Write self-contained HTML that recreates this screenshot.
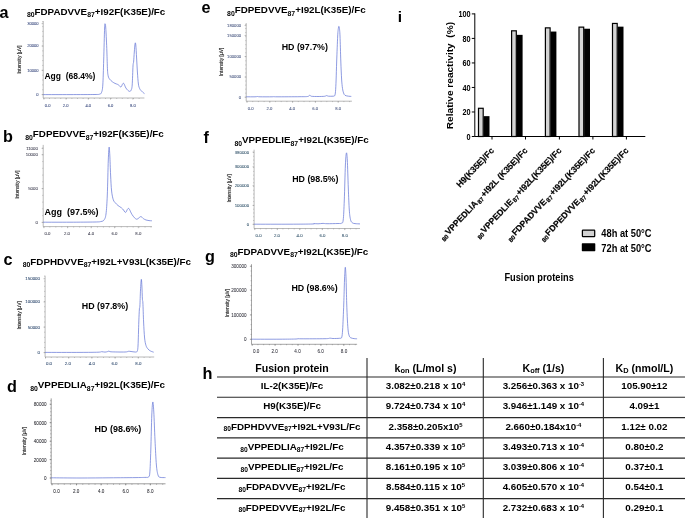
<!DOCTYPE html>
<html lang="en"><head><meta charset="utf-8"><title>Figure</title>
<style>html,body{margin:0;padding:0;background:#fff}svg{display:block}text{font-family:'Liberation Sans', sans-serif}</style>
</head><body>
<svg width="685" height="518" viewBox="0 0 685 518">
<rect width="685" height="518" fill="#fff"/>
<text x="-0.50" y="18.30" font-size="16.20" font-weight="bold" text-anchor="start" fill="#000" ><tspan dy="0.00" font-size="16.20">a</tspan></text>
<text x="26.90" y="14.50" font-size="9.80" font-weight="bold" text-anchor="start" fill="#000" ><tspan dy="2.70" font-size="6.86">80</tspan><tspan dy="-2.70" font-size="9.80">FDPADVVE</tspan><tspan dy="2.70" font-size="6.86">87</tspan><tspan dy="-2.70" font-size="9.80">+I92F(K35E)/Fc</tspan></text>
<path d="M43.20,21.00V98.00H144.40" fill="none" stroke="#8a8a8a" stroke-width="0.6"/>
<text x="38.60" y="25.04" font-size="4.1" text-anchor="end" fill="#33447a" stroke="#33447a" stroke-width="0.05">30000</text>
<text x="38.60" y="47.44" font-size="4.1" text-anchor="end" fill="#33447a" stroke="#33447a" stroke-width="0.05">20000</text>
<text x="38.60" y="71.73" font-size="4.1" text-anchor="end" fill="#33447a" stroke="#33447a" stroke-width="0.05">10000</text>
<text x="38.60" y="96.03" font-size="4.1" text-anchor="end" fill="#33447a" stroke="#33447a" stroke-width="0.05">0</text>
<text x="47.70" y="106.83" font-size="4.1" text-anchor="middle" fill="#33447a" stroke="#33447a" stroke-width="0.05">0.0</text>
<text x="65.60" y="106.83" font-size="4.1" text-anchor="middle" fill="#33447a" stroke="#33447a" stroke-width="0.05">2.0</text>
<text x="88.30" y="106.83" font-size="4.1" text-anchor="middle" fill="#33447a" stroke="#33447a" stroke-width="0.05">4.0</text>
<text x="110.50" y="106.83" font-size="4.1" text-anchor="middle" fill="#33447a" stroke="#33447a" stroke-width="0.05">6.0</text>
<text x="132.90" y="106.83" font-size="4.1" text-anchor="middle" fill="#33447a" stroke="#33447a" stroke-width="0.05">8.0</text>
<path d="M41.60,23.60H43.20M41.60,46.00H43.20M41.60,70.30H43.20M41.60,94.60H43.20M42.30,94.60H43.20M42.30,89.74H43.20M42.30,84.88H43.20M42.30,80.02H43.20M42.30,75.16H43.20M42.30,70.30H43.20M42.30,65.44H43.20M42.30,60.58H43.20M42.30,55.72H43.20M42.30,50.86H43.20M42.30,46.00H43.20M42.30,41.14H43.20M42.30,36.28H43.20M42.30,31.42H43.20M42.30,26.56H43.20M42.30,21.70H43.20M43.90,98.00v1.6M66.10,98.00v1.6M88.30,98.00v1.6M110.50,98.00v1.6M132.90,98.00v1.6M43.90,98.00v0.9M49.50,98.00v0.9M55.10,98.00v0.9M60.70,98.00v0.9M66.30,98.00v0.9M71.90,98.00v0.9M77.50,98.00v0.9M83.10,98.00v0.9M88.70,98.00v0.9M94.30,98.00v0.9M99.90,98.00v0.9M105.50,98.00v0.9M111.10,98.00v0.9M116.70,98.00v0.9M122.30,98.00v0.9M127.90,98.00v0.9M133.50,98.00v0.9M139.10,98.00v0.9" fill="none" stroke="#8a8a8a" stroke-width="0.5"/>
<text transform="translate(21.20,59.60) rotate(-90)" font-size="4.9" text-anchor="middle" fill="#1c1c1c" stroke="#1c1c1c" stroke-width="0.1">Intensity [µV]</text>
<path d="M43.20,94.60C47.67,94.60 61.37,94.62 70.00,94.60C78.63,94.58 90.08,94.57 95.00,94.50C99.92,94.43 98.42,94.53 99.50,94.20C100.58,93.87 100.95,94.03 101.50,92.50C102.05,90.97 102.43,90.42 102.80,85.00C103.17,79.58 103.40,69.50 103.70,60.00C104.00,50.50 104.37,34.00 104.60,28.00C104.83,22.00 104.92,24.17 105.10,24.00C105.28,23.83 105.48,24.33 105.70,27.00C105.92,29.67 106.20,35.83 106.40,40.00C106.60,44.17 106.72,47.00 106.90,52.00C107.08,57.00 107.28,66.00 107.50,70.00C107.72,74.00 107.87,74.50 108.20,76.00C108.53,77.50 108.80,78.03 109.50,79.00C110.20,79.97 111.48,81.07 112.40,81.80C113.32,82.53 114.13,82.97 115.00,83.40C115.87,83.83 116.88,84.03 117.60,84.40C118.32,84.77 118.85,85.20 119.30,85.60C119.75,86.00 120.03,86.57 120.30,86.80C120.57,87.03 120.68,87.10 120.90,87.00C121.12,86.90 121.35,86.65 121.60,86.20C121.85,85.75 122.17,84.77 122.40,84.30C122.63,83.83 122.82,83.57 123.00,83.40C123.18,83.23 123.32,83.22 123.50,83.30C123.68,83.38 123.87,83.48 124.10,83.90C124.33,84.32 124.60,85.12 124.90,85.80C125.20,86.48 125.42,87.25 125.90,88.00C126.38,88.75 127.23,89.75 127.80,90.30C128.37,90.85 128.90,91.15 129.30,91.30C129.70,91.45 129.88,91.42 130.20,91.20C130.52,90.98 130.87,91.03 131.20,90.00C131.53,88.97 131.90,89.00 132.20,85.00C132.50,81.00 132.77,69.83 133.00,66.00C133.23,62.17 133.38,64.33 133.60,62.00C133.82,59.67 134.05,55.08 134.30,52.00C134.55,48.92 134.85,44.67 135.10,43.50C135.35,42.33 135.55,42.58 135.80,45.00C136.05,47.42 136.33,53.50 136.60,58.00C136.87,62.50 137.10,67.67 137.40,72.00C137.70,76.33 138.03,81.25 138.40,84.00C138.77,86.75 139.17,87.42 139.60,88.50C140.03,89.58 140.47,89.87 141.00,90.50C141.53,91.13 142.22,91.78 142.80,92.30C143.38,92.82 144.22,93.38 144.50,93.60" fill="none" stroke="#5d70d4" stroke-width="0.7" stroke-linejoin="round"/>
<text x="44.40" y="79.00" font-size="8.50" font-weight="bold" text-anchor="start" fill="#000" xml:space="preserve"><tspan dy="0.00" font-size="8.50">Agg  (68.4%)</tspan></text>
<text x="3.00" y="141.80" font-size="16.20" font-weight="bold" text-anchor="start" fill="#000" ><tspan dy="0.00" font-size="16.20">b</tspan></text>
<text x="25.20" y="137.10" font-size="9.80" font-weight="bold" text-anchor="start" fill="#000" ><tspan dy="2.70" font-size="6.86">80</tspan><tspan dy="-2.70" font-size="9.80">FDPEDVVE</tspan><tspan dy="2.70" font-size="6.86">87</tspan><tspan dy="-2.70" font-size="9.80">+I92F(K35E)/Fc</tspan></text>
<path d="M43.20,144.90V226.60H151.90" fill="none" stroke="#8a8a8a" stroke-width="0.6"/>
<text x="37.80" y="149.91" font-size="4.3" text-anchor="end" fill="#38384a" stroke="#38384a" stroke-width="0.05">11000</text>
<text x="37.80" y="156.20" font-size="4.3" text-anchor="end" fill="#38384a" stroke="#38384a" stroke-width="0.05">10000</text>
<text x="37.80" y="190.10" font-size="4.3" text-anchor="end" fill="#38384a" stroke="#38384a" stroke-width="0.05">5000</text>
<text x="37.80" y="223.91" font-size="4.3" text-anchor="end" fill="#38384a" stroke="#38384a" stroke-width="0.05">0</text>
<text x="47.40" y="234.80" font-size="4.3" text-anchor="middle" fill="#38384a" stroke="#38384a" stroke-width="0.05">0.0</text>
<text x="67.00" y="234.80" font-size="4.3" text-anchor="middle" fill="#38384a" stroke="#38384a" stroke-width="0.05">2.0</text>
<text x="91.10" y="234.80" font-size="4.3" text-anchor="middle" fill="#38384a" stroke="#38384a" stroke-width="0.05">4.0</text>
<text x="114.50" y="234.80" font-size="4.3" text-anchor="middle" fill="#38384a" stroke="#38384a" stroke-width="0.05">6.0</text>
<text x="138.30" y="234.80" font-size="4.3" text-anchor="middle" fill="#38384a" stroke="#38384a" stroke-width="0.05">8.0</text>
<path d="M41.60,148.40H43.20M41.60,154.70H43.20M41.60,188.60H43.20M41.60,222.40H43.20M42.30,222.40H43.20M42.30,215.64H43.20M42.30,208.88H43.20M42.30,202.12H43.20M42.30,195.36H43.20M42.30,188.60H43.20M42.30,181.84H43.20M42.30,175.08H43.20M42.30,168.32H43.20M42.30,161.56H43.20M42.30,154.80H43.20M42.30,148.04H43.20M43.90,226.60v1.6M67.60,226.60v1.6M91.10,226.60v1.6M114.50,226.60v1.6M138.30,226.60v1.6M43.90,226.60v0.9M49.85,226.60v0.9M55.80,226.60v0.9M61.75,226.60v0.9M67.70,226.60v0.9M73.65,226.60v0.9M79.60,226.60v0.9M85.55,226.60v0.9M91.50,226.60v0.9M97.45,226.60v0.9M103.40,226.60v0.9M109.35,226.60v0.9M115.30,226.60v0.9M121.25,226.60v0.9M127.20,226.60v0.9M133.15,226.60v0.9M139.10,226.60v0.9M145.05,226.60v0.9M151.00,226.60v0.9" fill="none" stroke="#8a8a8a" stroke-width="0.5"/>
<text transform="translate(19.10,184.60) rotate(-90)" font-size="4.9" text-anchor="middle" fill="#1c1c1c" stroke="#1c1c1c" stroke-width="0.1">Intensity [µV]</text>
<path d="M43.20,222.20C47.67,222.20 61.37,222.23 70.00,222.20C78.63,222.17 89.83,222.12 95.00,222.00C100.17,221.88 99.50,221.83 101.00,221.50C102.50,221.17 103.17,221.25 104.00,220.00C104.83,218.75 105.45,218.17 106.00,214.00C106.55,209.83 106.92,204.00 107.30,195.00C107.68,186.00 108.00,167.97 108.30,160.00C108.60,152.03 108.85,148.03 109.10,147.20C109.35,146.37 109.55,150.37 109.80,155.00C110.05,159.63 110.30,169.00 110.60,175.00C110.90,181.00 111.15,186.87 111.60,191.00C112.05,195.13 112.65,197.80 113.30,199.80C113.95,201.80 114.72,202.05 115.50,203.00C116.28,203.95 117.00,204.68 118.00,205.50C119.00,206.32 120.58,207.15 121.50,207.90C122.42,208.65 122.95,209.32 123.50,210.00C124.05,210.68 124.47,211.60 124.80,212.00C125.13,212.40 125.27,212.43 125.50,212.40C125.73,212.37 125.92,212.25 126.20,211.80C126.48,211.35 126.88,210.25 127.20,209.70C127.52,209.15 127.83,208.70 128.10,208.50C128.37,208.30 128.55,208.32 128.80,208.50C129.05,208.68 129.30,209.05 129.60,209.60C129.90,210.15 130.20,210.98 130.60,211.80C131.00,212.62 131.35,213.50 132.00,214.50C132.65,215.50 133.78,217.03 134.50,217.80C135.22,218.57 135.85,218.88 136.30,219.10C136.75,219.32 136.78,219.28 137.20,219.10C137.62,218.92 138.30,218.38 138.80,218.00C139.30,217.62 139.80,217.02 140.20,216.80C140.60,216.58 140.87,216.58 141.20,216.70C141.53,216.82 141.82,217.17 142.20,217.50C142.58,217.83 142.87,218.28 143.50,218.70C144.13,219.12 145.08,219.68 146.00,220.00C146.92,220.32 148.02,220.47 149.00,220.60C149.98,220.73 151.42,220.77 151.90,220.80" fill="none" stroke="#5d70d4" stroke-width="0.7" stroke-linejoin="round"/>
<text x="44.40" y="215.00" font-size="9.00" font-weight="bold" text-anchor="start" fill="#000" xml:space="preserve"><tspan dy="0.00" font-size="9.00">Agg  (97.5%)</tspan></text>
<text x="3.50" y="265.20" font-size="16.20" font-weight="bold" text-anchor="start" fill="#000" ><tspan dy="0.00" font-size="16.20">c</tspan></text>
<text x="22.70" y="264.50" font-size="9.80" font-weight="bold" text-anchor="start" fill="#000" ><tspan dy="2.70" font-size="6.86">80</tspan><tspan dy="-2.70" font-size="9.80">FDPHDVVE</tspan><tspan dy="2.70" font-size="6.86">87</tspan><tspan dy="-2.70" font-size="9.80">+I92L+V93L(K35E)/Fc</tspan></text>
<path d="M45.10,275.70V357.00H154.20" fill="none" stroke="#8a8a8a" stroke-width="0.6"/>
<text x="40.00" y="280.24" font-size="4.4" text-anchor="end" fill="#28446a" stroke="#28446a" stroke-width="0.05">150000</text>
<text x="40.00" y="303.44" font-size="4.4" text-anchor="end" fill="#28446a" stroke="#28446a" stroke-width="0.05">100000</text>
<text x="40.00" y="328.64" font-size="4.4" text-anchor="end" fill="#28446a" stroke="#28446a" stroke-width="0.05">50000</text>
<text x="40.00" y="354.14" font-size="4.4" text-anchor="end" fill="#28446a" stroke="#28446a" stroke-width="0.05">0</text>
<text x="49.00" y="365.04" font-size="4.4" text-anchor="middle" fill="#28446a" stroke="#28446a" stroke-width="0.05">0.0</text>
<text x="67.80" y="365.04" font-size="4.4" text-anchor="middle" fill="#28446a" stroke="#28446a" stroke-width="0.05">2.0</text>
<text x="91.80" y="365.04" font-size="4.4" text-anchor="middle" fill="#28446a" stroke="#28446a" stroke-width="0.05">4.0</text>
<text x="114.50" y="365.04" font-size="4.4" text-anchor="middle" fill="#28446a" stroke="#28446a" stroke-width="0.05">6.0</text>
<text x="138.30" y="365.04" font-size="4.4" text-anchor="middle" fill="#28446a" stroke="#28446a" stroke-width="0.05">8.0</text>
<path d="M43.50,278.70H45.10M43.50,301.90H45.10M43.50,327.10H45.10M43.50,352.60H45.10M44.20,352.60H45.10M44.20,347.50H45.10M44.20,342.40H45.10M44.20,337.30H45.10M44.20,332.20H45.10M44.20,327.10H45.10M44.20,322.00H45.10M44.20,316.90H45.10M44.20,311.80H45.10M44.20,306.70H45.10M44.20,301.60H45.10M44.20,296.50H45.10M44.20,291.40H45.10M44.20,286.30H45.10M44.20,281.20H45.10M44.20,276.10H45.10M45.50,357.00v1.6M68.70,357.00v1.6M91.90,357.00v1.6M115.10,357.00v1.6M138.30,357.00v1.6M45.50,357.00v0.9M51.30,357.00v0.9M57.10,357.00v0.9M62.90,357.00v0.9M68.70,357.00v0.9M74.50,357.00v0.9M80.30,357.00v0.9M86.10,357.00v0.9M91.90,357.00v0.9M97.70,357.00v0.9M103.50,357.00v0.9M109.30,357.00v0.9M115.10,357.00v0.9M120.90,357.00v0.9M126.70,357.00v0.9M132.50,357.00v0.9M138.30,357.00v0.9M144.10,357.00v0.9M149.90,357.00v0.9" fill="none" stroke="#8a8a8a" stroke-width="0.5"/>
<text transform="translate(21.40,315.40) rotate(-90)" font-size="4.9" text-anchor="middle" fill="#1c1c1c" stroke="#1c1c1c" stroke-width="0.1">Intensity [µV]</text>
<path d="M45.10,352.40C50.92,352.40 71.18,352.43 80.00,352.40C88.82,352.37 94.40,352.32 98.00,352.20C101.60,352.08 100.43,351.72 101.60,351.70C102.77,351.68 104.02,352.12 105.00,352.10C105.98,352.08 106.82,351.78 107.50,351.60C108.18,351.42 108.52,350.97 109.10,351.00C109.68,351.03 108.35,351.63 111.00,351.80C113.65,351.97 122.08,352.08 125.00,352.00C127.92,351.92 127.50,351.38 128.50,351.30C129.50,351.22 129.92,351.38 131.00,351.50C132.08,351.62 134.00,352.00 135.00,352.00C136.00,352.00 136.50,352.50 137.00,351.50C137.50,350.50 137.70,350.92 138.00,346.00C138.30,341.08 138.57,328.17 138.80,322.00C139.03,315.83 139.22,311.67 139.40,309.00C139.58,306.33 139.72,309.17 139.90,306.00C140.08,302.83 140.27,294.43 140.50,290.00C140.73,285.57 141.07,280.07 141.30,279.40C141.53,278.73 141.72,282.73 141.90,286.00C142.08,289.27 142.23,296.17 142.40,299.00C142.57,301.83 142.70,299.17 142.90,303.00C143.10,306.83 143.32,316.17 143.60,322.00C143.88,327.83 144.20,334.08 144.60,338.00C145.00,341.92 145.43,343.67 146.00,345.50C146.57,347.33 147.25,348.08 148.00,349.00C148.75,349.92 149.55,350.47 150.50,351.00C151.45,351.53 153.17,352.00 153.70,352.20" fill="none" stroke="#5d70d4" stroke-width="0.7" stroke-linejoin="round"/>
<text x="81.80" y="308.90" font-size="8.90" font-weight="bold" text-anchor="start" fill="#000" xml:space="preserve"><tspan dy="0.00" font-size="8.90">HD (97.8%)</tspan></text>
<text x="7.10" y="392.30" font-size="16.20" font-weight="bold" text-anchor="start" fill="#000" ><tspan dy="0.00" font-size="16.20">d</tspan></text>
<text x="30.20" y="387.90" font-size="9.80" font-weight="bold" text-anchor="start" fill="#000" ><tspan dy="2.70" font-size="6.86">80</tspan><tspan dy="-2.70" font-size="9.80">VPPEDLIA</tspan><tspan dy="2.70" font-size="6.86">87</tspan><tspan dy="-2.70" font-size="9.80">+I92L(K35E)/Fc</tspan></text>
<path d="M51.20,398.40V483.80H165.50" fill="none" stroke="#5a5a5a" stroke-width="0.6"/>
<text x="46.60" y="406.31" font-size="4.6" text-anchor="end" fill="#2a2a30" stroke="#2a2a30" stroke-width="0.05">80000</text>
<text x="46.60" y="424.71" font-size="4.6" text-anchor="end" fill="#2a2a30" stroke="#2a2a30" stroke-width="0.05">60000</text>
<text x="46.60" y="443.31" font-size="4.6" text-anchor="end" fill="#2a2a30" stroke="#2a2a30" stroke-width="0.05">40000</text>
<text x="46.60" y="461.71" font-size="4.6" text-anchor="end" fill="#2a2a30" stroke="#2a2a30" stroke-width="0.05">20000</text>
<text x="46.60" y="480.11" font-size="4.6" text-anchor="end" fill="#2a2a30" stroke="#2a2a30" stroke-width="0.05">0</text>
<text x="56.50" y="493.11" font-size="4.6" text-anchor="middle" fill="#2a2a30" stroke="#2a2a30" stroke-width="0.05">0.0</text>
<text x="76.20" y="493.11" font-size="4.6" text-anchor="middle" fill="#2a2a30" stroke="#2a2a30" stroke-width="0.05">2.0</text>
<text x="101.20" y="493.11" font-size="4.6" text-anchor="middle" fill="#2a2a30" stroke="#2a2a30" stroke-width="0.05">4.0</text>
<text x="125.60" y="493.11" font-size="4.6" text-anchor="middle" fill="#2a2a30" stroke="#2a2a30" stroke-width="0.05">6.0</text>
<text x="150.30" y="493.11" font-size="4.6" text-anchor="middle" fill="#2a2a30" stroke="#2a2a30" stroke-width="0.05">8.0</text>
<path d="M49.60,404.20H51.20M49.60,422.60H51.20M49.60,441.20H51.20M49.60,459.60H51.20M49.60,478.00H51.20M50.30,478.00H51.20M50.30,474.32H51.20M50.30,470.64H51.20M50.30,466.96H51.20M50.30,463.28H51.20M50.30,459.60H51.20M50.30,455.92H51.20M50.30,452.24H51.20M50.30,448.56H51.20M50.30,444.88H51.20M50.30,441.20H51.20M50.30,437.52H51.20M50.30,433.84H51.20M50.30,430.16H51.20M50.30,426.48H51.20M50.30,422.80H51.20M50.30,419.12H51.20M50.30,415.44H51.20M50.30,411.76H51.20M50.30,408.08H51.20M50.30,404.40H51.20M50.30,400.72H51.20M52.00,483.80v1.6M76.50,483.80v1.6M101.10,483.80v1.6M125.70,483.80v1.6M150.30,483.80v1.6M52.00,483.80v0.9M58.15,483.80v0.9M64.30,483.80v0.9M70.45,483.80v0.9M76.60,483.80v0.9M82.75,483.80v0.9M88.90,483.80v0.9M95.05,483.80v0.9M101.20,483.80v0.9M107.35,483.80v0.9M113.50,483.80v0.9M119.65,483.80v0.9M125.80,483.80v0.9M131.95,483.80v0.9M138.10,483.80v0.9M144.25,483.80v0.9M150.40,483.80v0.9M156.55,483.80v0.9M162.70,483.80v0.9" fill="none" stroke="#5a5a5a" stroke-width="0.5"/>
<text transform="translate(25.70,441.00) rotate(-90)" font-size="4.9" text-anchor="middle" fill="#1c1c1c" stroke="#1c1c1c" stroke-width="0.1">Intensity [µV]</text>
<path d="M51.20,477.80C56.00,477.83 70.20,478.00 80.00,478.00C89.80,478.00 100.83,477.87 110.00,477.80C119.17,477.73 129.17,477.67 135.00,477.60C140.83,477.53 142.77,477.50 145.00,477.40C147.23,477.30 147.60,477.73 148.40,477.00C149.20,476.27 149.40,477.50 149.80,473.00C150.20,468.50 150.47,459.67 150.80,450.00C151.13,440.33 151.47,423.00 151.80,415.00C152.13,407.00 152.47,402.50 152.80,402.00C153.13,401.50 153.43,405.67 153.80,412.00C154.17,418.33 154.57,431.17 155.00,440.00C155.43,448.83 155.90,459.17 156.40,465.00C156.90,470.83 157.40,472.95 158.00,475.00C158.60,477.05 158.75,476.87 160.00,477.30C161.25,477.73 164.58,477.55 165.50,477.60" fill="none" stroke="#5d70d4" stroke-width="0.7" stroke-linejoin="round"/>
<text x="94.60" y="432.00" font-size="8.95" font-weight="bold" text-anchor="start" fill="#000" xml:space="preserve"><tspan dy="0.00" font-size="8.95">HD (98.6%)</tspan></text>
<text x="201.60" y="13.10" font-size="16.20" font-weight="bold" text-anchor="start" fill="#000" ><tspan dy="0.00" font-size="16.20">e</tspan></text>
<text x="227.10" y="13.10" font-size="9.80" font-weight="bold" text-anchor="start" fill="#000" ><tspan dy="2.70" font-size="6.86">80</tspan><tspan dy="-2.70" font-size="9.80">FDPEDVVE</tspan><tspan dy="2.70" font-size="6.86">87</tspan><tspan dy="-2.70" font-size="9.80">+I92L(K35E)/Fc</tspan></text>
<path d="M246.20,23.10V101.20H351.90" fill="none" stroke="#8a8a8a" stroke-width="0.6"/>
<text x="241.10" y="26.97" font-size="4.2" text-anchor="end" fill="#42517c" stroke="#42517c" stroke-width="0.05">180000</text>
<text x="241.10" y="36.97" font-size="4.2" text-anchor="end" fill="#42517c" stroke="#42517c" stroke-width="0.05">150000</text>
<text x="241.10" y="57.97" font-size="4.2" text-anchor="end" fill="#42517c" stroke="#42517c" stroke-width="0.05">100000</text>
<text x="241.10" y="78.47" font-size="4.2" text-anchor="end" fill="#42517c" stroke="#42517c" stroke-width="0.05">50000</text>
<text x="241.10" y="98.67" font-size="4.2" text-anchor="end" fill="#42517c" stroke="#42517c" stroke-width="0.05">0</text>
<text x="250.70" y="109.77" font-size="4.2" text-anchor="middle" fill="#42517c" stroke="#42517c" stroke-width="0.05">0.0</text>
<text x="269.40" y="109.77" font-size="4.2" text-anchor="middle" fill="#42517c" stroke="#42517c" stroke-width="0.05">2.0</text>
<text x="292.20" y="109.77" font-size="4.2" text-anchor="middle" fill="#42517c" stroke="#42517c" stroke-width="0.05">4.0</text>
<text x="315.10" y="109.77" font-size="4.2" text-anchor="middle" fill="#42517c" stroke="#42517c" stroke-width="0.05">6.0</text>
<text x="338.20" y="109.77" font-size="4.2" text-anchor="middle" fill="#42517c" stroke="#42517c" stroke-width="0.05">8.0</text>
<path d="M244.60,25.50H246.20M244.60,35.50H246.20M244.60,56.50H246.20M244.60,77.00H246.20M244.60,97.20H246.20M245.30,97.20H246.20M245.30,93.16H246.20M245.30,89.12H246.20M245.30,85.08H246.20M245.30,81.04H246.20M245.30,77.00H246.20M245.30,72.96H246.20M245.30,68.92H246.20M245.30,64.88H246.20M245.30,60.84H246.20M245.30,56.80H246.20M245.30,52.76H246.20M245.30,48.72H246.20M245.30,44.68H246.20M245.30,40.64H246.20M245.30,36.60H246.20M245.30,32.56H246.20M245.30,28.52H246.20M245.30,24.48H246.20M247.00,101.20v1.6M269.80,101.20v1.6M292.60,101.20v1.6M315.40,101.20v1.6M338.20,101.20v1.6M247.00,101.20v0.9M252.70,101.20v0.9M258.40,101.20v0.9M264.10,101.20v0.9M269.80,101.20v0.9M275.50,101.20v0.9M281.20,101.20v0.9M286.90,101.20v0.9M292.60,101.20v0.9M298.30,101.20v0.9M304.00,101.20v0.9M309.70,101.20v0.9M315.40,101.20v0.9M321.10,101.20v0.9M326.80,101.20v0.9M332.50,101.20v0.9M338.20,101.20v0.9M343.90,101.20v0.9M349.60,101.20v0.9" fill="none" stroke="#8a8a8a" stroke-width="0.5"/>
<text transform="translate(222.80,61.80) rotate(-90)" font-size="4.9" text-anchor="middle" fill="#1c1c1c" stroke="#1c1c1c" stroke-width="0.1">Intensity [µV]</text>
<path d="M246.20,96.80C247.67,96.80 253.12,96.85 255.00,96.80C256.88,96.75 256.67,96.50 257.50,96.50C258.33,96.50 257.58,96.75 260.00,96.80C262.42,96.85 269.67,96.83 272.00,96.80C274.33,96.77 273.17,96.60 274.00,96.60C274.83,96.60 272.67,96.78 277.00,96.80C281.33,96.82 294.92,96.75 300.00,96.70C305.08,96.65 305.87,96.73 307.50,96.50C309.13,96.27 309.13,95.33 309.80,95.30C310.47,95.27 310.13,96.10 311.50,96.30C312.87,96.50 315.83,96.50 318.00,96.50C320.17,96.50 323.10,96.45 324.50,96.30C325.90,96.15 325.73,95.62 326.40,95.60C327.07,95.58 327.40,96.10 328.50,96.20C329.60,96.30 331.97,96.30 333.00,96.20C334.03,96.10 334.28,96.38 334.70,95.60C335.12,94.82 335.27,94.10 335.50,91.50C335.73,88.90 335.90,85.08 336.10,80.00C336.30,74.92 336.43,68.33 336.70,61.00C336.97,53.67 337.42,41.47 337.70,36.00C337.98,30.53 338.20,29.80 338.40,28.20C338.60,26.60 338.73,26.40 338.90,26.40C339.07,26.40 339.22,26.60 339.40,28.20C339.58,29.80 339.77,30.53 340.00,36.00C340.23,41.47 340.53,53.83 340.80,61.00C341.07,68.17 341.32,74.43 341.60,79.00C341.88,83.57 342.17,86.07 342.50,88.40C342.83,90.73 343.18,91.85 343.60,93.00C344.02,94.15 344.18,94.77 345.00,95.30C345.82,95.83 347.45,96.02 348.50,96.20C349.55,96.38 350.83,96.37 351.30,96.40" fill="none" stroke="#5d70d4" stroke-width="0.7" stroke-linejoin="round"/>
<text x="281.70" y="49.90" font-size="8.86" font-weight="bold" text-anchor="start" fill="#000" xml:space="preserve"><tspan dy="0.00" font-size="8.86">HD (97.7%)</tspan></text>
<text x="203.60" y="143.00" font-size="16.20" font-weight="bold" text-anchor="start" fill="#000" ><tspan dy="0.00" font-size="16.20">f</tspan></text>
<text x="234.40" y="143.10" font-size="9.80" font-weight="bold" text-anchor="start" fill="#000" ><tspan dy="2.70" font-size="6.86">80</tspan><tspan dy="-2.70" font-size="9.80">VPPEDLIE</tspan><tspan dy="2.70" font-size="6.86">87</tspan><tspan dy="-2.70" font-size="9.80">+I92L(K35E)/Fc</tspan></text>
<path d="M254.10,149.70V228.50H360.00" fill="none" stroke="#8a8a8a" stroke-width="0.6"/>
<text x="249.20" y="153.62" font-size="4.35" text-anchor="end" fill="#2f5068" stroke="#2f5068" stroke-width="0.05">380000</text>
<text x="249.20" y="168.32" font-size="4.35" text-anchor="end" fill="#2f5068" stroke="#2f5068" stroke-width="0.05">300000</text>
<text x="249.20" y="187.22" font-size="4.35" text-anchor="end" fill="#2f5068" stroke="#2f5068" stroke-width="0.05">200000</text>
<text x="249.20" y="206.92" font-size="4.35" text-anchor="end" fill="#2f5068" stroke="#2f5068" stroke-width="0.05">100000</text>
<text x="249.20" y="225.82" font-size="4.35" text-anchor="end" fill="#2f5068" stroke="#2f5068" stroke-width="0.05">0</text>
<text x="258.60" y="236.72" font-size="4.35" text-anchor="middle" fill="#2f5068" stroke="#2f5068" stroke-width="0.05">0.0</text>
<text x="277.00" y="236.72" font-size="4.35" text-anchor="middle" fill="#2f5068" stroke="#2f5068" stroke-width="0.05">2.0</text>
<text x="299.60" y="236.72" font-size="4.35" text-anchor="middle" fill="#2f5068" stroke="#2f5068" stroke-width="0.05">4.0</text>
<text x="322.40" y="236.72" font-size="4.35" text-anchor="middle" fill="#2f5068" stroke="#2f5068" stroke-width="0.05">6.0</text>
<text x="344.80" y="236.72" font-size="4.35" text-anchor="middle" fill="#2f5068" stroke="#2f5068" stroke-width="0.05">8.0</text>
<path d="M252.50,152.10H254.10M252.50,166.80H254.10M252.50,185.70H254.10M252.50,205.40H254.10M252.50,224.30H254.10M253.20,224.30H254.10M253.20,220.52H254.10M253.20,216.74H254.10M253.20,212.96H254.10M253.20,209.18H254.10M253.20,205.40H254.10M253.20,201.62H254.10M253.20,197.84H254.10M253.20,194.06H254.10M253.20,190.28H254.10M253.20,186.50H254.10M253.20,182.72H254.10M253.20,178.94H254.10M253.20,175.16H254.10M253.20,171.38H254.10M253.20,167.60H254.10M253.20,163.82H254.10M253.20,160.04H254.10M253.20,156.26H254.10M253.20,152.48H254.10M254.80,228.50v1.6M277.30,228.50v1.6M299.80,228.50v1.6M322.30,228.50v1.6M344.80,228.50v1.6M254.80,228.50v0.9M260.43,228.50v0.9M266.05,228.50v0.9M271.68,228.50v0.9M277.30,228.50v0.9M282.93,228.50v0.9M288.55,228.50v0.9M294.18,228.50v0.9M299.80,228.50v0.9M305.43,228.50v0.9M311.05,228.50v0.9M316.68,228.50v0.9M322.30,228.50v0.9M327.93,228.50v0.9M333.55,228.50v0.9M339.18,228.50v0.9M344.80,228.50v0.9M350.43,228.50v0.9M356.05,228.50v0.9" fill="none" stroke="#8a8a8a" stroke-width="0.5"/>
<text transform="translate(230.70,188.40) rotate(-90)" font-size="4.9" text-anchor="middle" fill="#1c1c1c" stroke="#1c1c1c" stroke-width="0.1">Intensity [µV]</text>
<path d="M254.10,224.20C260.08,224.20 280.35,224.23 290.00,224.20C299.65,224.17 308.00,224.10 312.00,224.00C316.00,223.90 313.00,223.63 314.00,223.60C315.00,223.57 316.50,223.83 318.00,223.80C319.50,223.77 321.50,223.42 323.00,223.40C324.50,223.38 324.50,223.68 327.00,223.70C329.50,223.72 335.58,223.58 338.00,223.50C340.42,223.42 340.63,223.78 341.50,223.20C342.37,222.62 342.73,223.87 343.20,220.00C343.67,216.13 343.93,209.17 344.30,200.00C344.67,190.83 345.05,172.83 345.40,165.00C345.75,157.17 346.08,153.83 346.40,153.00C346.72,152.17 346.98,154.17 347.30,160.00C347.62,165.83 347.97,179.67 348.30,188.00C348.63,196.33 348.93,204.75 349.30,210.00C349.67,215.25 350.02,217.38 350.50,219.50C350.98,221.62 351.45,222.02 352.20,222.70C352.95,223.38 353.70,223.40 355.00,223.60C356.30,223.80 359.17,223.85 360.00,223.90" fill="none" stroke="#5d70d4" stroke-width="0.7" stroke-linejoin="round"/>
<text x="292.20" y="181.70" font-size="8.86" font-weight="bold" text-anchor="start" fill="#000" xml:space="preserve"><tspan dy="0.00" font-size="8.86">HD (98.5%)</tspan></text>
<text x="205.00" y="261.50" font-size="16.20" font-weight="bold" text-anchor="start" fill="#000" ><tspan dy="0.00" font-size="16.20">g</tspan></text>
<text x="229.90" y="254.50" font-size="9.80" font-weight="bold" text-anchor="start" fill="#000" ><tspan dy="2.70" font-size="6.86">80</tspan><tspan dy="-2.70" font-size="9.80">FDPADVVE</tspan><tspan dy="2.70" font-size="6.86">87</tspan><tspan dy="-2.70" font-size="9.80">+I92L(K35E)/Fc</tspan></text>
<path d="M251.50,264.20V344.30H357.10" fill="none" stroke="#6a6a6a" stroke-width="0.6"/>
<text x="246.60" y="267.91" font-size="4.6" text-anchor="end" fill="#32323c" stroke="#32323c" stroke-width="0.05">300000</text>
<text x="246.60" y="291.51" font-size="4.6" text-anchor="end" fill="#32323c" stroke="#32323c" stroke-width="0.05">200000</text>
<text x="246.60" y="316.51" font-size="4.6" text-anchor="end" fill="#32323c" stroke="#32323c" stroke-width="0.05">100000</text>
<text x="246.60" y="340.91" font-size="4.6" text-anchor="end" fill="#32323c" stroke="#32323c" stroke-width="0.05">0</text>
<text x="256.20" y="352.61" font-size="4.6" text-anchor="middle" fill="#32323c" stroke="#32323c" stroke-width="0.05">0.0</text>
<text x="274.60" y="352.61" font-size="4.6" text-anchor="middle" fill="#32323c" stroke="#32323c" stroke-width="0.05">2.0</text>
<text x="297.50" y="352.61" font-size="4.6" text-anchor="middle" fill="#32323c" stroke="#32323c" stroke-width="0.05">4.0</text>
<text x="320.60" y="352.61" font-size="4.6" text-anchor="middle" fill="#32323c" stroke="#32323c" stroke-width="0.05">6.0</text>
<text x="344.00" y="352.61" font-size="4.6" text-anchor="middle" fill="#32323c" stroke="#32323c" stroke-width="0.05">8.0</text>
<path d="M249.90,266.30H251.50M249.90,289.90H251.50M249.90,314.90H251.50M249.90,339.30H251.50M250.60,339.30H251.50M250.60,334.42H251.50M250.60,329.54H251.50M250.60,324.66H251.50M250.60,319.78H251.50M250.60,314.90H251.50M250.60,310.02H251.50M250.60,305.14H251.50M250.60,300.26H251.50M250.60,295.38H251.50M250.60,290.50H251.50M250.60,285.62H251.50M250.60,280.74H251.50M250.60,275.86H251.50M250.60,270.98H251.50M250.60,266.10H251.50M252.20,344.30v1.6M275.10,344.30v1.6M298.00,344.30v1.6M320.90,344.30v1.6M343.80,344.30v1.6M252.20,344.30v0.9M257.93,344.30v0.9M263.65,344.30v0.9M269.38,344.30v0.9M275.10,344.30v0.9M280.83,344.30v0.9M286.55,344.30v0.9M292.28,344.30v0.9M298.00,344.30v0.9M303.73,344.30v0.9M309.45,344.30v0.9M315.18,344.30v0.9M320.90,344.30v0.9M326.63,344.30v0.9M332.35,344.30v0.9M338.08,344.30v0.9M343.80,344.30v0.9M349.53,344.30v0.9M355.25,344.30v0.9" fill="none" stroke="#6a6a6a" stroke-width="0.5"/>
<text transform="translate(229.00,303.00) rotate(-90)" font-size="4.9" text-anchor="middle" fill="#1c1c1c" stroke="#1c1c1c" stroke-width="0.1">Intensity [µV]</text>
<path d="M251.50,339.20C256.25,339.20 272.58,339.23 280.00,339.20C287.42,339.17 293.00,339.10 296.00,339.00C299.00,338.90 297.17,338.63 298.00,338.60C298.83,338.57 296.50,338.78 301.00,338.80C305.50,338.82 320.17,338.80 325.00,338.70C329.83,338.60 328.67,338.23 330.00,338.20C331.33,338.17 331.42,338.48 333.00,338.50C334.58,338.52 338.05,338.48 339.50,338.30C340.95,338.12 341.18,338.78 341.70,337.40C342.22,336.02 342.35,333.23 342.60,330.00C342.85,326.77 343.00,322.50 343.20,318.00C343.40,313.50 343.58,309.33 343.80,303.00C344.02,296.67 344.30,285.58 344.50,280.00C344.70,274.42 344.87,271.62 345.00,269.50C345.13,267.38 345.20,267.30 345.30,267.30C345.40,267.30 345.47,267.38 345.60,269.50C345.73,271.62 345.92,274.42 346.10,280.00C346.28,285.58 346.48,296.33 346.70,303.00C346.92,309.67 347.15,315.33 347.40,320.00C347.65,324.67 347.88,328.33 348.20,331.00C348.52,333.67 348.87,334.87 349.30,336.00C349.73,337.13 350.02,337.37 350.80,337.80C351.58,338.23 352.95,338.43 354.00,338.60C355.05,338.77 356.58,338.77 357.10,338.80" fill="none" stroke="#5d70d4" stroke-width="0.7" stroke-linejoin="round"/>
<text x="291.40" y="291.20" font-size="8.86" font-weight="bold" text-anchor="start" fill="#000" xml:space="preserve"><tspan dy="0.00" font-size="8.86">HD (98.6%)</tspan></text>
<text x="397.70" y="22.30" font-size="15.50" font-weight="bold" text-anchor="start" fill="#000" ><tspan dy="0.00" font-size="15.50">i</tspan></text>
<path d="M474.8,13.4V136.5H645.3" fill="none" stroke="#000" stroke-width="1"/>
<text transform="translate(470.60,139.60) scale(1,1.18)" font-size="7.3" font-weight="bold" text-anchor="end">0</text>
<text transform="translate(470.60,115.08) scale(1,1.18)" font-size="7.3" font-weight="bold" text-anchor="end">20</text>
<text transform="translate(470.60,90.56) scale(1,1.18)" font-size="7.3" font-weight="bold" text-anchor="end">40</text>
<text transform="translate(470.60,66.04) scale(1,1.18)" font-size="7.3" font-weight="bold" text-anchor="end">60</text>
<text transform="translate(470.60,41.52) scale(1,1.18)" font-size="7.3" font-weight="bold" text-anchor="end">80</text>
<text transform="translate(470.60,17.00) scale(1,1.18)" font-size="7.3" font-weight="bold" text-anchor="end">100</text>
<path d="M471.80,136.50H474.80M471.80,111.98H474.80M471.80,87.46H474.80M471.80,62.94H474.80M471.80,38.42H474.80M471.80,13.90H474.80M492.00,136.50v3M525.50,136.50v3M559.40,136.50v3M592.90,136.50v3M626.40,136.50v3" fill="none" stroke="#000" stroke-width="1"/>
<rect x="478.50" y="108.29" width="4.7" height="28.21" fill="#d4d4d4" stroke="#000" stroke-width="1.2"/>
<rect x="483.60" y="116.15" width="5.9" height="20.35" fill="#000"/>
<rect x="511.60" y="30.81" width="4.7" height="105.69" fill="#d4d4d4" stroke="#000" stroke-width="1.2"/>
<rect x="516.70" y="34.86" width="5.9" height="101.64" fill="#000"/>
<rect x="545.40" y="27.86" width="4.7" height="108.64" fill="#d4d4d4" stroke="#000" stroke-width="1.2"/>
<rect x="550.50" y="31.55" width="5.9" height="104.95" fill="#000"/>
<rect x="579.00" y="27.13" width="4.7" height="109.37" fill="#d4d4d4" stroke="#000" stroke-width="1.2"/>
<rect x="584.10" y="28.73" width="5.9" height="107.77" fill="#000"/>
<rect x="612.50" y="23.45" width="4.7" height="113.05" fill="#d4d4d4" stroke="#000" stroke-width="1.2"/>
<rect x="617.60" y="26.65" width="5.9" height="109.85" fill="#000"/>
<text transform="translate(452.6,129.2) rotate(-90)" font-size="8.6" font-weight="bold" text-anchor="start" textLength="107.2" lengthAdjust="spacingAndGlyphs" xml:space="preserve">Relative reactivity  (%)</text>
<text transform="translate(494.60,151.1) rotate(-46.7)" font-size="8.6" font-weight="bold" text-anchor="end" stroke="#000" stroke-width="0.2"><tspan dy="0.00" font-size="8.60">H9(K35E)/Fc</tspan></text>
<text transform="translate(528.10,151.1) rotate(-46.7)" font-size="8.6" font-weight="bold" text-anchor="end" stroke="#000" stroke-width="0.2"><tspan dy="1.50" font-size="6.19">80</tspan><tspan dy="-1.50" dx="0.90" font-size="8.60">VPPEDLIA</tspan><tspan dy="1.50" dx="0.90" font-size="6.19">87</tspan><tspan dy="-1.50" dx="0.90" font-size="8.60">+I92L (K35E)/Fc</tspan></text>
<text transform="translate(562.00,151.1) rotate(-46.7)" font-size="8.6" font-weight="bold" text-anchor="end" stroke="#000" stroke-width="0.2"><tspan dy="1.50" font-size="6.19">80</tspan><tspan dy="-1.50" dx="0.90" font-size="8.60">VPPEDLIE</tspan><tspan dy="1.50" dx="0.90" font-size="6.19">87</tspan><tspan dy="-1.50" dx="0.90" font-size="8.60">+I92L(K35E)/Fc</tspan></text>
<text transform="translate(595.50,151.1) rotate(-46.7)" font-size="8.6" font-weight="bold" text-anchor="end" stroke="#000" stroke-width="0.2"><tspan dy="1.50" font-size="6.19">80</tspan><tspan dy="-1.50" dx="0.90" font-size="8.60">FDPADVVE</tspan><tspan dy="1.50" dx="0.90" font-size="6.19">87</tspan><tspan dy="-1.50" dx="0.90" font-size="8.60">+I92L(K35E)/Fc</tspan></text>
<text transform="translate(629.00,151.1) rotate(-46.7)" font-size="8.6" font-weight="bold" text-anchor="end" stroke="#000" stroke-width="0.2"><tspan dy="1.50" font-size="6.19">80</tspan><tspan dy="-1.50" dx="0.90" font-size="8.60">FDPEDVVE</tspan><tspan dy="1.50" dx="0.90" font-size="6.19">87</tspan><tspan dy="-1.50" dx="0.90" font-size="8.60">+I92L(K35E)/Fc</tspan></text>
<rect x="582.4" y="230.1" width="12.3" height="6.6" rx="0.6" fill="#d2d2d2" stroke="#000" stroke-width="1.25"/>
<rect x="581.8" y="243.3" width="13.5" height="7.9" rx="0.6" fill="#000"/>
<text transform="translate(601.3,237.2) scale(1,1.18)" font-size="9.3" font-weight="bold">48h at 50°C</text>
<text transform="translate(601.3,251.6) scale(1,1.18)" font-size="9.3" font-weight="bold">72h at 50°C</text>
<text transform="translate(539.1,281.0) scale(1,1.18)" font-size="9.25" font-weight="bold" text-anchor="middle">Fusion proteins</text>
<text x="202.40" y="378.50" font-size="16.30" font-weight="bold" text-anchor="start" fill="#000" ><tspan dy="0.00" font-size="16.30">h</tspan></text>
<path d="M217,377.00H685M217,397.30H685M217,417.60H685M217,437.90H685M217,458.10H685M217,478.40H685M217,498.60H685M367.00,358V518M483.30,358V518M603.40,358V518" fill="none" stroke="#2a2a2a" stroke-width="1.1"/>
<text x="292.00" y="371.70" font-size="10.60" font-weight="bold" text-anchor="middle" fill="#000" ><tspan dy="0.00" font-size="10.60">Fusion protein</tspan></text>
<text x="425.50" y="371.70" font-size="10.60" font-weight="bold" text-anchor="middle" fill="#000" ><tspan dy="0.00" font-size="10.60">k</tspan><tspan dy="1.60" font-size="7.42">on</tspan><tspan dy="-1.60" font-size="10.60"> (L/mol s)</tspan></text>
<text x="543.40" y="371.70" font-size="10.60" font-weight="bold" text-anchor="middle" fill="#000" ><tspan dy="0.00" font-size="10.60">K</tspan><tspan dy="1.60" font-size="7.42">off</tspan><tspan dy="-1.60" font-size="10.60"> (1/s)</tspan></text>
<text x="644.40" y="371.70" font-size="10.60" font-weight="bold" text-anchor="middle" fill="#000" ><tspan dy="0.00" font-size="10.60">K</tspan><tspan dy="1.60" font-size="7.42">D</tspan><tspan dy="-1.60" font-size="10.60"> (nmol/L)</tspan></text>
<text x="292.00" y="388.90" font-size="9.80" font-weight="bold" text-anchor="middle" fill="#000" ><tspan dy="0.00" font-size="9.80">IL-2(K35E)/Fc</tspan></text>
<text x="425.50" y="388.90" font-size="9.80" font-weight="bold" text-anchor="middle" fill="#000" ><tspan dy="0.00" font-size="9.80">3.082±0.218 x 10</tspan><tspan dy="-3.00" font-size="5.88">4</tspan></text>
<text x="543.40" y="388.90" font-size="9.80" font-weight="bold" text-anchor="middle" fill="#000" ><tspan dy="0.00" font-size="9.80">3.256±0.363 x 10</tspan><tspan dy="-3.00" font-size="5.88">-3</tspan></text>
<text x="644.40" y="388.90" font-size="9.80" font-weight="bold" text-anchor="middle" fill="#000" ><tspan dy="0.00" font-size="9.80">105.90±12</tspan></text>
<text x="292.00" y="409.20" font-size="9.80" font-weight="bold" text-anchor="middle" fill="#000" ><tspan dy="0.00" font-size="9.80">H9(K35E)/Fc</tspan></text>
<text x="425.50" y="409.20" font-size="9.80" font-weight="bold" text-anchor="middle" fill="#000" ><tspan dy="0.00" font-size="9.80">9.724±0.734 x 10</tspan><tspan dy="-3.00" font-size="5.88">4</tspan></text>
<text x="543.40" y="409.20" font-size="9.80" font-weight="bold" text-anchor="middle" fill="#000" ><tspan dy="0.00" font-size="9.80">3.946±1.149 x 10</tspan><tspan dy="-3.00" font-size="5.88">-4</tspan></text>
<text x="644.40" y="409.20" font-size="9.80" font-weight="bold" text-anchor="middle" fill="#000" ><tspan dy="0.00" font-size="9.80">4.09±1</tspan></text>
<text x="292.00" y="429.50" font-size="9.80" font-weight="bold" text-anchor="middle" fill="#000" ><tspan dy="1.80" font-size="6.66">80</tspan><tspan dy="-1.80" font-size="9.80">FDPHDVVE</tspan><tspan dy="1.80" font-size="6.66">87</tspan><tspan dy="-1.80" font-size="9.80">+I92L+V93L/Fc</tspan></text>
<text x="425.50" y="429.50" font-size="9.80" font-weight="bold" text-anchor="middle" fill="#000" ><tspan dy="0.00" font-size="9.80">2.358±0.205x10</tspan><tspan dy="-3.00" font-size="5.88">5</tspan></text>
<text x="543.40" y="429.50" font-size="9.80" font-weight="bold" text-anchor="middle" fill="#000" ><tspan dy="0.00" font-size="9.80">2.660±0.184x10</tspan><tspan dy="-3.00" font-size="5.88">-4</tspan></text>
<text x="644.40" y="429.50" font-size="9.80" font-weight="bold" text-anchor="middle" fill="#000" ><tspan dy="0.00" font-size="9.80">1.12± 0.02</tspan></text>
<text x="292.00" y="449.80" font-size="9.80" font-weight="bold" text-anchor="middle" fill="#000" ><tspan dy="1.80" font-size="6.66">80</tspan><tspan dy="-1.80" font-size="9.80">VPPEDLIA</tspan><tspan dy="1.80" font-size="6.66">87</tspan><tspan dy="-1.80" font-size="9.80">+I92L/Fc</tspan></text>
<text x="425.50" y="449.80" font-size="9.80" font-weight="bold" text-anchor="middle" fill="#000" ><tspan dy="0.00" font-size="9.80">4.357±0.339 x 10</tspan><tspan dy="-3.00" font-size="5.88">5</tspan></text>
<text x="543.40" y="449.80" font-size="9.80" font-weight="bold" text-anchor="middle" fill="#000" ><tspan dy="0.00" font-size="9.80">3.493±0.713 x 10</tspan><tspan dy="-3.00" font-size="5.88">-4</tspan></text>
<text x="644.40" y="449.80" font-size="9.80" font-weight="bold" text-anchor="middle" fill="#000" ><tspan dy="0.00" font-size="9.80">0.80±0.2</tspan></text>
<text x="292.00" y="470.00" font-size="9.80" font-weight="bold" text-anchor="middle" fill="#000" ><tspan dy="1.80" font-size="6.66">80</tspan><tspan dy="-1.80" font-size="9.80">VPPEDLIE</tspan><tspan dy="1.80" font-size="6.66">87</tspan><tspan dy="-1.80" font-size="9.80">+I92L/Fc</tspan></text>
<text x="425.50" y="470.00" font-size="9.80" font-weight="bold" text-anchor="middle" fill="#000" ><tspan dy="0.00" font-size="9.80">8.161±0.195 x 10</tspan><tspan dy="-3.00" font-size="5.88">5</tspan></text>
<text x="543.40" y="470.00" font-size="9.80" font-weight="bold" text-anchor="middle" fill="#000" ><tspan dy="0.00" font-size="9.80">3.039±0.806 x 10</tspan><tspan dy="-3.00" font-size="5.88">-4</tspan></text>
<text x="644.40" y="470.00" font-size="9.80" font-weight="bold" text-anchor="middle" fill="#000" ><tspan dy="0.00" font-size="9.80">0.37±0.1</tspan></text>
<text x="292.00" y="490.30" font-size="9.80" font-weight="bold" text-anchor="middle" fill="#000" ><tspan dy="1.80" font-size="6.66">80</tspan><tspan dy="-1.80" font-size="9.80">FDPADVVE</tspan><tspan dy="1.80" font-size="6.66">87</tspan><tspan dy="-1.80" font-size="9.80">+I92L/Fc</tspan></text>
<text x="425.50" y="490.30" font-size="9.80" font-weight="bold" text-anchor="middle" fill="#000" ><tspan dy="0.00" font-size="9.80">8.584±0.115 x 10</tspan><tspan dy="-3.00" font-size="5.88">5</tspan></text>
<text x="543.40" y="490.30" font-size="9.80" font-weight="bold" text-anchor="middle" fill="#000" ><tspan dy="0.00" font-size="9.80">4.605±0.570 x 10</tspan><tspan dy="-3.00" font-size="5.88">-4</tspan></text>
<text x="644.40" y="490.30" font-size="9.80" font-weight="bold" text-anchor="middle" fill="#000" ><tspan dy="0.00" font-size="9.80">0.54±0.1</tspan></text>
<text x="292.00" y="510.50" font-size="9.80" font-weight="bold" text-anchor="middle" fill="#000" ><tspan dy="1.80" font-size="6.66">80</tspan><tspan dy="-1.80" font-size="9.80">FDPEDVVE</tspan><tspan dy="1.80" font-size="6.66">87</tspan><tspan dy="-1.80" font-size="9.80">+I92L/Fc</tspan></text>
<text x="425.50" y="510.50" font-size="9.80" font-weight="bold" text-anchor="middle" fill="#000" ><tspan dy="0.00" font-size="9.80">9.458±0.351 x 10</tspan><tspan dy="-3.00" font-size="5.88">5</tspan></text>
<text x="543.40" y="510.50" font-size="9.80" font-weight="bold" text-anchor="middle" fill="#000" ><tspan dy="0.00" font-size="9.80">2.732±0.683 x 10</tspan><tspan dy="-3.00" font-size="5.88">-4</tspan></text>
<text x="644.40" y="510.50" font-size="9.80" font-weight="bold" text-anchor="middle" fill="#000" ><tspan dy="0.00" font-size="9.80">0.29±0.1</tspan></text>
</svg>
</body></html>
